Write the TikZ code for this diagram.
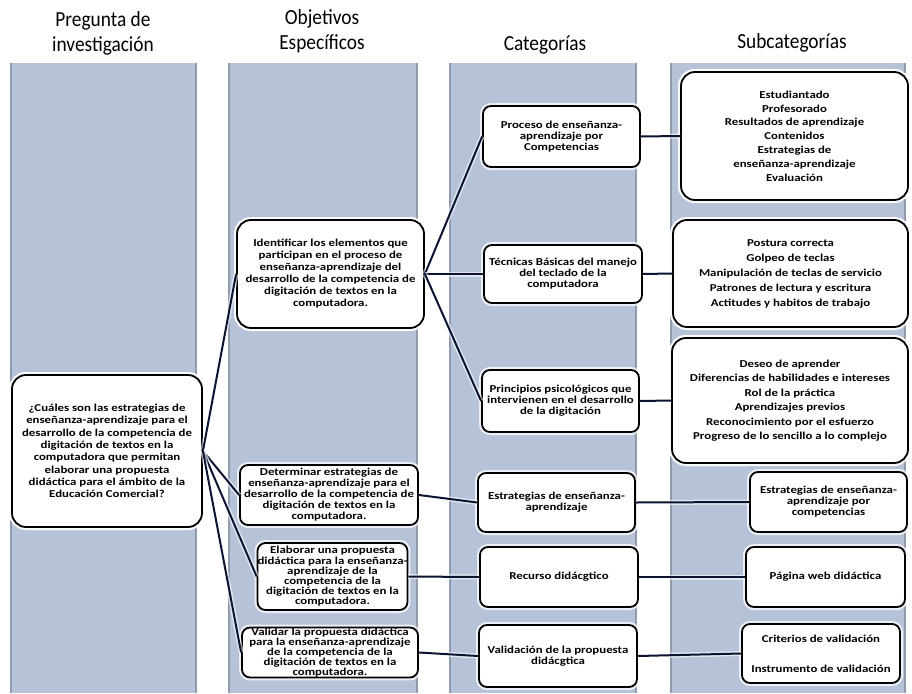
\documentclass[tikz,border=0pt]{standalone}
\usepackage{fontspec}
\setmainfont{Carlito}
\newfontfamily\boxfont{Carlito}[FakeStretch=1.21]
\newfontfamily\hdrfont{Carlito}[FakeStretch=0.9]
\definecolor{panelc}{RGB}{182,194,216}
\definecolor{edgec}{RGB}{145,155,175}
\definecolor{connc}{RGB}{12,20,52}
\newcommand\bxf[1]{\boxfont\bfseries\fontsize{10.6}{#1}\selectfont}
\tikzset{
  panel/.style={fill=panelc, draw=none},
  paneledge/.style={draw=edgec, line width=1.6pt},
  hdr/.style={font=\hdrfont\fontsize{21.5}{25}\selectfont, align=center, text=black},
  box/.style={draw=black, line width=1.8pt, fill=white, rounded corners=8pt,
    align=center, inner sep=0pt, text=black, font=\bxf{11},
    preaction={draw=white, line width=6pt, opacity=0.75}},
  bigbox/.style={box, rounded corners=14pt},
  conn/.style={draw=connc, line width=2pt,
    preaction={draw=white, line width=5pt, opacity=0.6}}
}
\newcommand\mkbox[7][]{%
  \node[box,#1, minimum width={(#5-#3)*1pt}, minimum height={(#6-#4)*1pt}]
    (#2) at ({(#3+#5)/2},{(#4+#6)/2}) {#7};}
\begin{document}
\begin{tikzpicture}[x=1pt,y=-1pt]
\useasboundingbox (0,0) rectangle (912,693);
\fill[white] (0,0) rectangle (912,693);
% panels
\foreach \a/\b in {10/197, 228/418, 449/637, 670/906}{
  \fill[panelc] (\a,63) rectangle (\b,693);
  \draw[paneledge] (\a+0.8,63) -- (\a+0.8,693);
  \draw[paneledge] (\b-0.8,63) -- (\b-0.8,693);
}
% headers
\node[hdr] (h1) at (103,33) {Pregunta de\\investigación};
\node[hdr] (h2) at (322,31) {Objetivos\\Específicos};
\node[hdr] (h3) at (545,45) {Categorías};
\node[hdr] (h4) at (792,43) {Subcategorías};
% question
\mkbox[bigbox,font=\bxf{12.3}]{q}{12}{375}{202}{527}{¿Cuáles son las estrategias de\\enseñanza-aprendizaje para el\\desarrollo de la competencia de\\digitación de textos en la\\computadora que permitan\\elaborar una propuesta\\didáctica para el ámbito de la\\Educación Comercial?}
% objectives
\mkbox[bigbox,font=\bxf{12}]{o1}{237}{220}{424}{328}{Identificar los elementos que\\participan en el proceso de\\enseñanza-aprendizaje del\\desarrollo de la competencia de\\digitación de textos en la\\computadora.}
\mkbox{o2}{240}{465}{418}{525}{Determinar estrategias de\\enseñanza-aprendizaje para el\\desarrollo de la competencia de\\digitación de textos en la\\computadora.}
\mkbox[font=\bxf{10.2}]{o3}{258}{543}{407}{610}{Elaborar una propuesta\\didáctica para la enseñanza-\\aprendizaje de la\\competencia de la\\digitación de textos en la\\computadora.}
\mkbox[font=\bxf{10.2}]{o4}{242}{628}{418}{677}{Validar la propuesta didáctica\\para la enseñanza-aprendizaje\\de la competencia de la\\digitación de textos en la\\computadora.}
% categories
\mkbox{c1}{483}{106}{640}{167}{Proceso de enseñanza-\\aprendizaje por\\Competencias}
\mkbox{c2}{484}{245}{642}{303}{Técnicas Básicas del manejo\\del teclado de la\\computadora}
\mkbox{c3}{482}{370}{639}{432}{Principios psicológicos que\\intervienen en el desarrollo\\de la digitación}
\mkbox{c4}{478}{473}{635}{532}{Estrategias de enseñanza-\\aprendizaje}
\mkbox{c5}{480}{547}{638}{607}{Recurso didácgtico}
\mkbox{c6}{479}{625}{637}{687}{Validación de la propuesta\\didácgtica}
% subcategories
\mkbox[bigbox,font=\bxf{13.8}]{s1}{681}{72}{908}{200}{Estudiantado\\Profesorado\\Resultados de aprendizaje\\Contenidos\\Estrategias de\\enseñanza-aprendizaje\\Evaluación}
\mkbox[bigbox,font=\bxf{15}]{s2}{673}{220}{908}{327}{Postura correcta\\Golpeo de teclas\\Manipulación de teclas de servicio\\Patrones de lectura y escritura\\Actitudes y habitos de trabajo}
\mkbox[bigbox,font=\bxf{14.5}]{s3}{672}{338}{908}{463}{Deseo de aprender\\Diferencias de habilidades e intereses\\Rol de la práctica\\Aprendizajes previos\\Reconocimiento por el esfuerzo\\Progreso de lo sencillo a lo complejo}
\mkbox{s4}{750}{472}{907}{532}{Estrategias de enseñanza-\\aprendizaje por\\competencias}
\mkbox{s5}{746}{547}{905}{607}{Página web didáctica}
\mkbox{s6}{742}{624}{900}{683}{Criterios de validación\\[19pt]Instrumento de validación}
% connectors
\foreach \t in {o1,o2,o3,o4}{\draw[conn] (q.east) -- (\t.west);}
\foreach \t in {c1,c2,c3}{\draw[conn] (o1.east) -- (\t.west);}
\draw[conn] (o2.east) -- (c4.west);
\draw[conn] (o3.east) -- (c5.west);
\draw[conn] (o4.east) -- (c6.west);
\draw[conn] (c1.east) -- (s1.west);
\draw[conn] (c2.east) -- (s2.west);
\draw[conn] (c3.east) -- (s3.west);
\draw[conn] (c4.east) -- (s4.west);
\draw[conn] (c5.east) -- (s5.west);
\draw[conn] (c6.east) -- (s6.west);
\end{tikzpicture}
\end{document}
